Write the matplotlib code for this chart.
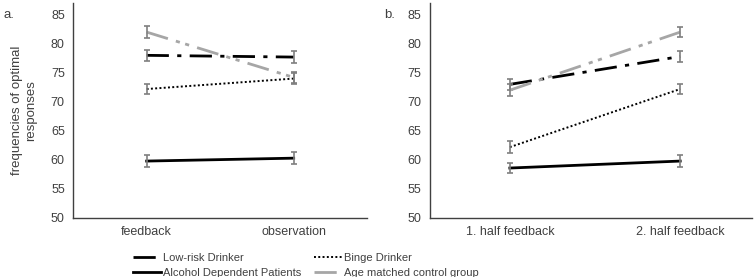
import matplotlib.pyplot as plt
from matplotlib.lines import Line2D

plt.rcParams['font.family'] = ['Liberation Sans', 'DejaVu Sans']

groups = ['Low-risk Drinker', 'Binge Drinker', 'Alcohol Dependent Patients', 'Age matched control group']

cats_a = ['feedback', 'observation']
vals_a = {
    'Low-risk Drinker': [78.0, 77.7],
    'Binge Drinker': [72.2, 74.0],
    'Alcohol Dependent Patients': [59.8, 60.3],
    'Age matched control group': [82.0, 74.2],
}
err_a = {
    'Low-risk Drinker': [1.0, 1.0],
    'Binge Drinker': [0.9, 0.9],
    'Alcohol Dependent Patients': [1.0, 1.0],
    'Age matched control group': [1.0, 0.9],
}

cats_b = ['1. half feedback', '2. half feedback']
vals_b = {
    'Low-risk Drinker': [73.0, 77.8],
    'Binge Drinker': [62.2, 72.2],
    'Alcohol Dependent Patients': [58.6, 59.8],
    'Age matched control group': [72.0, 82.0],
}
err_b = {
    'Low-risk Drinker': [1.0, 1.0],
    'Binge Drinker': [1.0, 0.9],
    'Alcohol Dependent Patients': [0.9, 1.0],
    'Age matched control group': [1.0, 0.9],
}

styles = {
    'Low-risk Drinker': dict(color='black', lw=2.0, dashes=(8, 3, 1.5, 3)),
    'Binge Drinker': dict(color='black', lw=1.4, dashes=(1, 1.2)),
    'Alcohol Dependent Patients': dict(color='black', lw=2.0, dashes=()),
    'Age matched control group': dict(color='#a6a6a6', lw=2.0, dashes=(8, 3, 1.5, 2, 1.5, 3)),
}

fig = plt.figure(figsize=(7.54, 2.77), dpi=100)
ax_a = fig.add_axes([0.097, 0.213, 0.390, 0.776])
ax_b = fig.add_axes([0.570, 0.213, 0.427, 0.776])


def draw(ax, cats, vals, errs, xlim):
    x = list(range(len(cats)))
    for g in groups:
        st = styles[g]
        line, = ax.plot(x, vals[g], color=st['color'], lw=st['lw'])
        if st['dashes']:
            line.set_dashes(st['dashes'])
        ax.errorbar(x, vals[g], yerr=errs[g], fmt='none', ecolor='#7f7f7f',
                    elinewidth=1.2, capsize=2.5, capthick=1.2)
    ax.set_xlim(*xlim)
    ax.set_ylim(50, 87)
    ax.set_yticks(range(50, 90, 5))
    ax.set_xticks(x)
    ax.set_xticklabels(cats)
    ax.tick_params(length=0, labelsize=9, colors='#404040', pad=6)
    for s in ['top', 'right']:
        ax.spines[s].set_visible(False)
    for s in ['left', 'bottom']:
        ax.spines[s].set_color('#404040')
        ax.spines[s].set_linewidth(1.0)


draw(ax_a, cats_a, vals_a, err_a, (-0.5, 1.5))
draw(ax_b, cats_b, vals_b, err_b, (-0.47, 1.42))

ax_a.set_ylabel('frequencies of optimal\nresponses', fontsize=9.5, color='#404040', labelpad=10)
fig.text(0.005, 0.935, 'a.', fontsize=9.5, color='#404040')
fig.text(0.51, 0.935, 'b.', fontsize=9.5, color='#404040')

# legend is filled column by column, so order it to read row by row
order = ['Low-risk Drinker', 'Alcohol Dependent Patients', 'Binge Drinker', 'Age matched control group']
handles = []
for g in order:
    st = styles[g]
    h = Line2D([0], [0], color=st['color'], lw=st['lw'])
    if st['dashes']:
        h.set_dashes(st['dashes'])
    handles.append(h)
fig.legend(handles, order, ncol=2, loc='lower left', bbox_to_anchor=(0.163, -0.04),
           frameon=False, fontsize=8, handlelength=2.5, handletextpad=0.2,
           columnspacing=1.2, labelspacing=0.45, labelcolor='#404040')

fig.savefig('out.png', dpi=100)
